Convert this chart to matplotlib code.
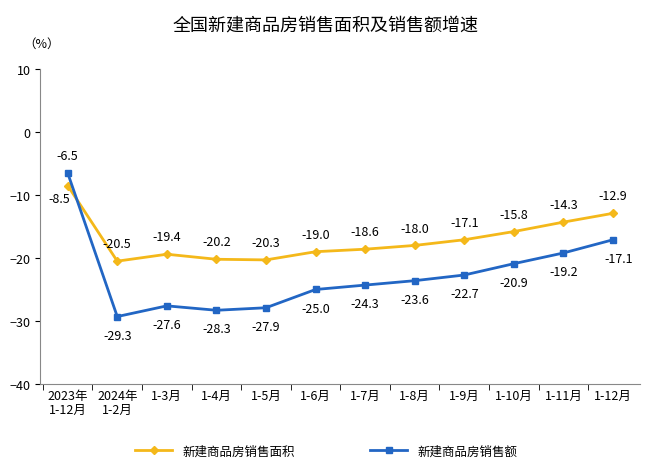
import matplotlib
matplotlib.use("Agg")
import matplotlib.pyplot as plt

plt.rcParams["font.family"] = ["Noto Sans CJK SC", "DejaVu Sans"]

categories = ["2023年\n1-12月", "2024年\n1-2月", "1-3月", "1-4月", "1-5月", "1-6月",
              "1-7月", "1-8月", "1-9月", "1-10月", "1-11月", "1-12月"]
area = [-8.5, -20.5, -19.4, -20.2, -20.3, -19.0, -18.6, -18.0, -17.1, -15.8, -14.3, -12.9]
sales = [-6.5, -29.3, -27.6, -28.3, -27.9, -25.0, -24.3, -23.6, -22.7, -20.9, -19.2, -17.1]

c_area = "#F4B81A"
c_sales = "#2266C4"

fig = plt.figure(figsize=(6.52, 4.77), dpi=100)
ax = fig.add_axes([0.062, 0.193, 0.92, 0.66])
x = list(range(len(categories)))
ax.plot(x, area, color=c_area, lw=2, marker="D", ms=4, label="新建商品房销售面积")
ax.plot(x, sales, color=c_sales, lw=2, marker="s", ms=4, label="新建商品房销售额")

for i, (a, s) in enumerate(zip(area, sales)):
    if i == 0:
        ax.annotate(f"{a:.1f}", (i, a), xytext=(-6, -12), textcoords="offset points",
                    ha="center", fontsize=9)
        ax.annotate(f"{s:.1f}", (i, s), xytext=(0, 10), textcoords="offset points",
                    ha="center", fontsize=9)
    elif i == len(area) - 1:
        ax.annotate(f"{a:.1f}", (i, a), xytext=(0, 10), textcoords="offset points",
                    ha="center", fontsize=9)
        ax.annotate(f"{s:.1f}", (i, s), xytext=(4, -16), textcoords="offset points",
                    ha="center", fontsize=9)
    else:
        ax.annotate(f"{a:.1f}", (i, a), xytext=(0, 10), textcoords="offset points",
                    ha="center", fontsize=9)
        ax.annotate(f"{s:.1f}", (i, s), xytext=(0, -16), textcoords="offset points",
                    ha="center", fontsize=9)

ax.set_ylim(-40, 10)
ax.set_yticks([10, 0, -10, -20, -30, -40])
ax.set_xlim(-0.55, len(categories) - 0.45)
ax.set_xticks(x)
ax.set_xticklabels(categories, fontsize=9, linespacing=1.1)
ax.set_xticks([i + 0.5 for i in x[:-1]] + [-0.5], minor=True)
ax.tick_params(axis="x", which="major", length=0)
ax.tick_params(axis="x", which="minor", length=4)
ax.tick_params(axis="y", labelsize=9)
for s in ["top", "right"]:
    ax.spines[s].set_visible(False)
ax.spines["left"].set_color("#888888")
ax.spines["bottom"].set_color("#888888")

fig.text(0.035, 0.9, "（%）", fontsize=9)
fig.suptitle("全国新建商品房销售面积及销售额增速", y=0.965, fontsize=13)
fig.legend(loc="lower center", ncol=2, frameon=False, fontsize=9,
           bbox_to_anchor=(0.5, 0.015), columnspacing=6, handlelength=3)
fig.savefig("out.png", dpi=100)
